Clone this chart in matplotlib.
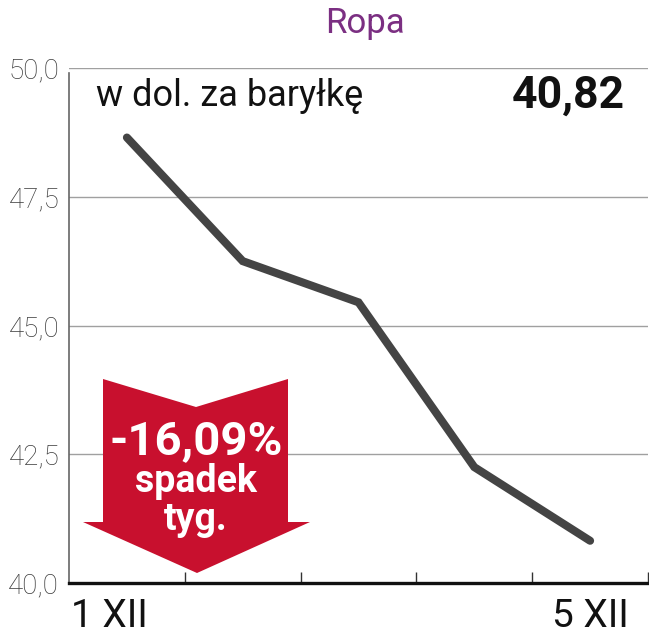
"""Ropa - weekly oil price chart (w dol. za baryłkę)."""

import matplotlib
matplotlib.use("Agg")
import matplotlib.pyplot as plt
from matplotlib.patches import Polygon
import numpy as np

plt.rcParams["font.family"] = ["Roboto", "DejaVu Sans"]

# data
days = ["1 XII", "2 XII", "3 XII", "4 XII", "5 XII"]
prices = [48.65, 46.25, 45.45, 42.25, 40.82]
shown_days = ["1 XII", "5 XII"]
y_ticks = [40.0, 42.5, 45.0, 47.5, 50.0]
y_labels = ["40,0", "42,5", "45,0", "47,5", "50,0"]
title = "Ropa"
unit = "w dol. za baryłkę"
last_value = "40,82"
change_lines = ["-16,09%", "spadek", "tyg."]

W, H = 649, 640
fig = plt.figure(figsize=(W / 100, H / 100), dpi=100)
ax = fig.add_axes([69 / W, 1 - 583 / H, (648 - 69) / W, (583 - 68) / H])

x = np.arange(len(prices)) + 0.5
ax.plot(x, prices, color="#444444", lw=5.8, solid_capstyle="round",
        solid_joinstyle="miter", zorder=3)

ax.set_xlim(0, len(days))
ax.set_ylim(40, 50)
ax.set_yticks(y_ticks)
ax.set_yticklabels(y_labels, fontsize=20, color="#3a3a3a", fontweight="light")
ax.tick_params(axis="y", length=0, pad=7)
ax.set_xticks(np.arange(1, len(days) + 1))
ax.set_xticklabels([])
ax.tick_params(axis="x", direction="in", length=8, width=1.0, color="#333333")
ax.grid(axis="y", color="#a0a0a0", lw=1.0)
ax.set_axisbelow(True)

for s in ("top", "right"):
    ax.spines[s].set_visible(False)
ax.spines["left"].set_color("#666666")
ax.spines["left"].set_linewidth(1.2)
ax.spines["left"].set_bounds(40, 49.9)
ax.spines["bottom"].set_color("#111111")
ax.spines["bottom"].set_linewidth(2.4)

# day labels under the axis
label_pos = {"1 XII": 0.35, "5 XII": 4.5}
for d in shown_days:
    ax.text(label_pos[d], -0.03, d, transform=ax.get_xaxis_transform(),
            ha="center", va="top", fontsize=28, color="#111111")

fig.text(365 / W, 1 - 24 / H, title, ha="center", va="center",
         fontsize=25, color="#7b2f82")
ax.text(96 / W, 1 - 96 / H, unit, transform=fig.transFigure, ha="left",
        va="center", fontsize=26, color="#111111")
ax.text(625 / W, 1 - 96 / H, last_value, transform=fig.transFigure,
        ha="right", va="center", fontsize=32, fontweight="bold",
        color="#111111")

# red down arrow with weekly change
arrow_px = [(103, 379), (196, 407), (288, 379), (288, 522), (310, 522),
            (197, 573), (83, 522), (103, 522)]
arrow = Polygon([(px / W, 1 - py / H) for px, py in arrow_px], closed=True,
                transform=fig.transFigure, facecolor="#c8102e",
                edgecolor="none", zorder=5)
fig.add_artist(arrow)
fig.text(196 / W, 1 - 441 / H, change_lines[0], ha="center", va="center",
         fontsize=34, fontweight="bold", color="white", zorder=6)
fig.text(196 / W, 1 - 482 / H, change_lines[1], ha="center", va="center",
         fontsize=27, fontweight="bold", color="white", zorder=6)
fig.text(196 / W, 1 - 520 / H, change_lines[2], ha="center", va="center",
         fontsize=27, fontweight="bold", color="white", zorder=6)

fig.savefig("out.png", dpi=100)
